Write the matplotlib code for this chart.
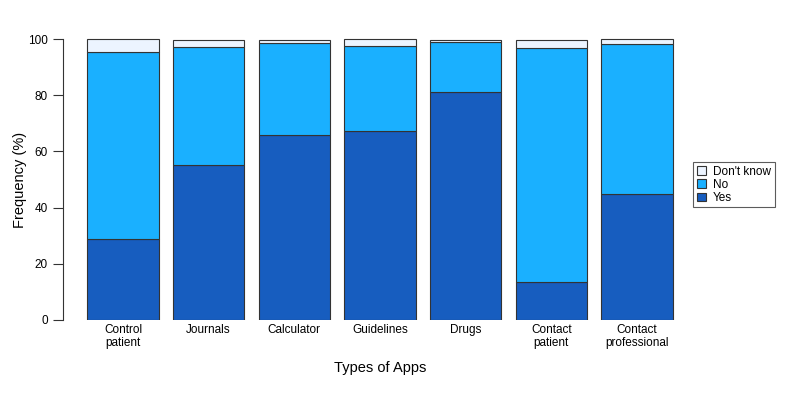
import matplotlib
matplotlib.use("Agg")
import matplotlib.pyplot as plt
from matplotlib.patches import Patch
import numpy as np

plt.rcParams['font.family'] = ['Liberation Sans', 'DejaVu Sans']

categories = ["Control\npatient", "Journals", "Calculator", "Guidelines", "Drugs",
              "Contact\npatient", "Contact\nprofessional"]
yes_vals = [28.8, 55.2, 65.8, 67.3, 81.1, 13.5, 44.8]
no_vals = [66.5, 41.8, 32.8, 30.2, 17.8, 83.3, 53.4]
dontknow_vals = [4.7, 2.7, 1.1, 2.5, 0.7, 2.9, 1.8]
series_names = ["Yes", "No", "Don't know"]
colors = ["#175dbf", "#1ab0ff", "#ecf4ff"]

W, H = 786, 400
fig = plt.figure(figsize=(W / 100, H / 100), dpi=100)
ax_left, ax_right = 63, 697
ax_bottom, ax_top = 320, 320 - 281 * 1.01
ax_w, ax_h = ax_right - ax_left, ax_bottom - ax_top
ax = fig.add_axes([ax_left / W, (H - ax_bottom) / H, ax_w / W, ax_h / H])

x = np.arange(len(categories))
width = 1 / 1.2
bottom = np.zeros(len(categories))
for vals, name, col in zip([yes_vals, no_vals, dontknow_vals], series_names, colors):
    ax.bar(x, vals, width=width, bottom=bottom, color=col, edgecolor="#333333",
           linewidth=0.8, label=name, zorder=2)
    bottom = bottom + np.array(vals)

ax.set_xlim(-0.70, 6.70)
ax.set_ylim(0, 101)
for s in ["top", "right", "bottom"]:
    ax.spines[s].set_visible(False)
ax.spines["left"].set_bounds(0, 100)
ax.spines["left"].set_color("#333333")
ax.spines["left"].set_linewidth(0.8)
ax.set_yticks([0, 20, 40, 60, 80, 100])
ax.tick_params(axis="y", direction="out", length=7, width=0.8, color="#333333",
               labelsize=8.5, pad=4)
ax.set_xticks(x)
ax.set_xticklabels(categories, fontsize=8.5, linespacing=1.1)
ax.tick_params(axis="x", length=0, pad=3)
ax.set_ylabel("Frequency (%)", fontsize=10.5, va="center")
ax.yaxis.set_label_coords((20 - ax_left) / ax_w, 0.5 * 100 / 101)
ax.set_xlabel("Types of Apps", fontsize=10.5, va="center")
ax.xaxis.set_label_coords(0.5 - (697 - 63 - 2 * (380 - 63)) / (2 * ax_w),
                          (ax_bottom - 368) / ax_h)

handles = [Patch(facecolor=c, edgecolor="#333333", linewidth=0.8, label=n)
           for n, c in zip(series_names[::-1], colors[::-1])]
leg = fig.legend(handles=handles, loc="upper left",
                 bbox_to_anchor=(693 / W, 1 - 162 / H), fontsize=8.5,
                 frameon=True, fancybox=False, borderpad=0.3, labelspacing=0.1,
                 handlelength=0.8, handleheight=0.7, handletextpad=0.6,
                 borderaxespad=0)
leg.get_frame().set_edgecolor("#333333")
leg.get_frame().set_linewidth(0.8)

fig.savefig("out.png", dpi=100)
